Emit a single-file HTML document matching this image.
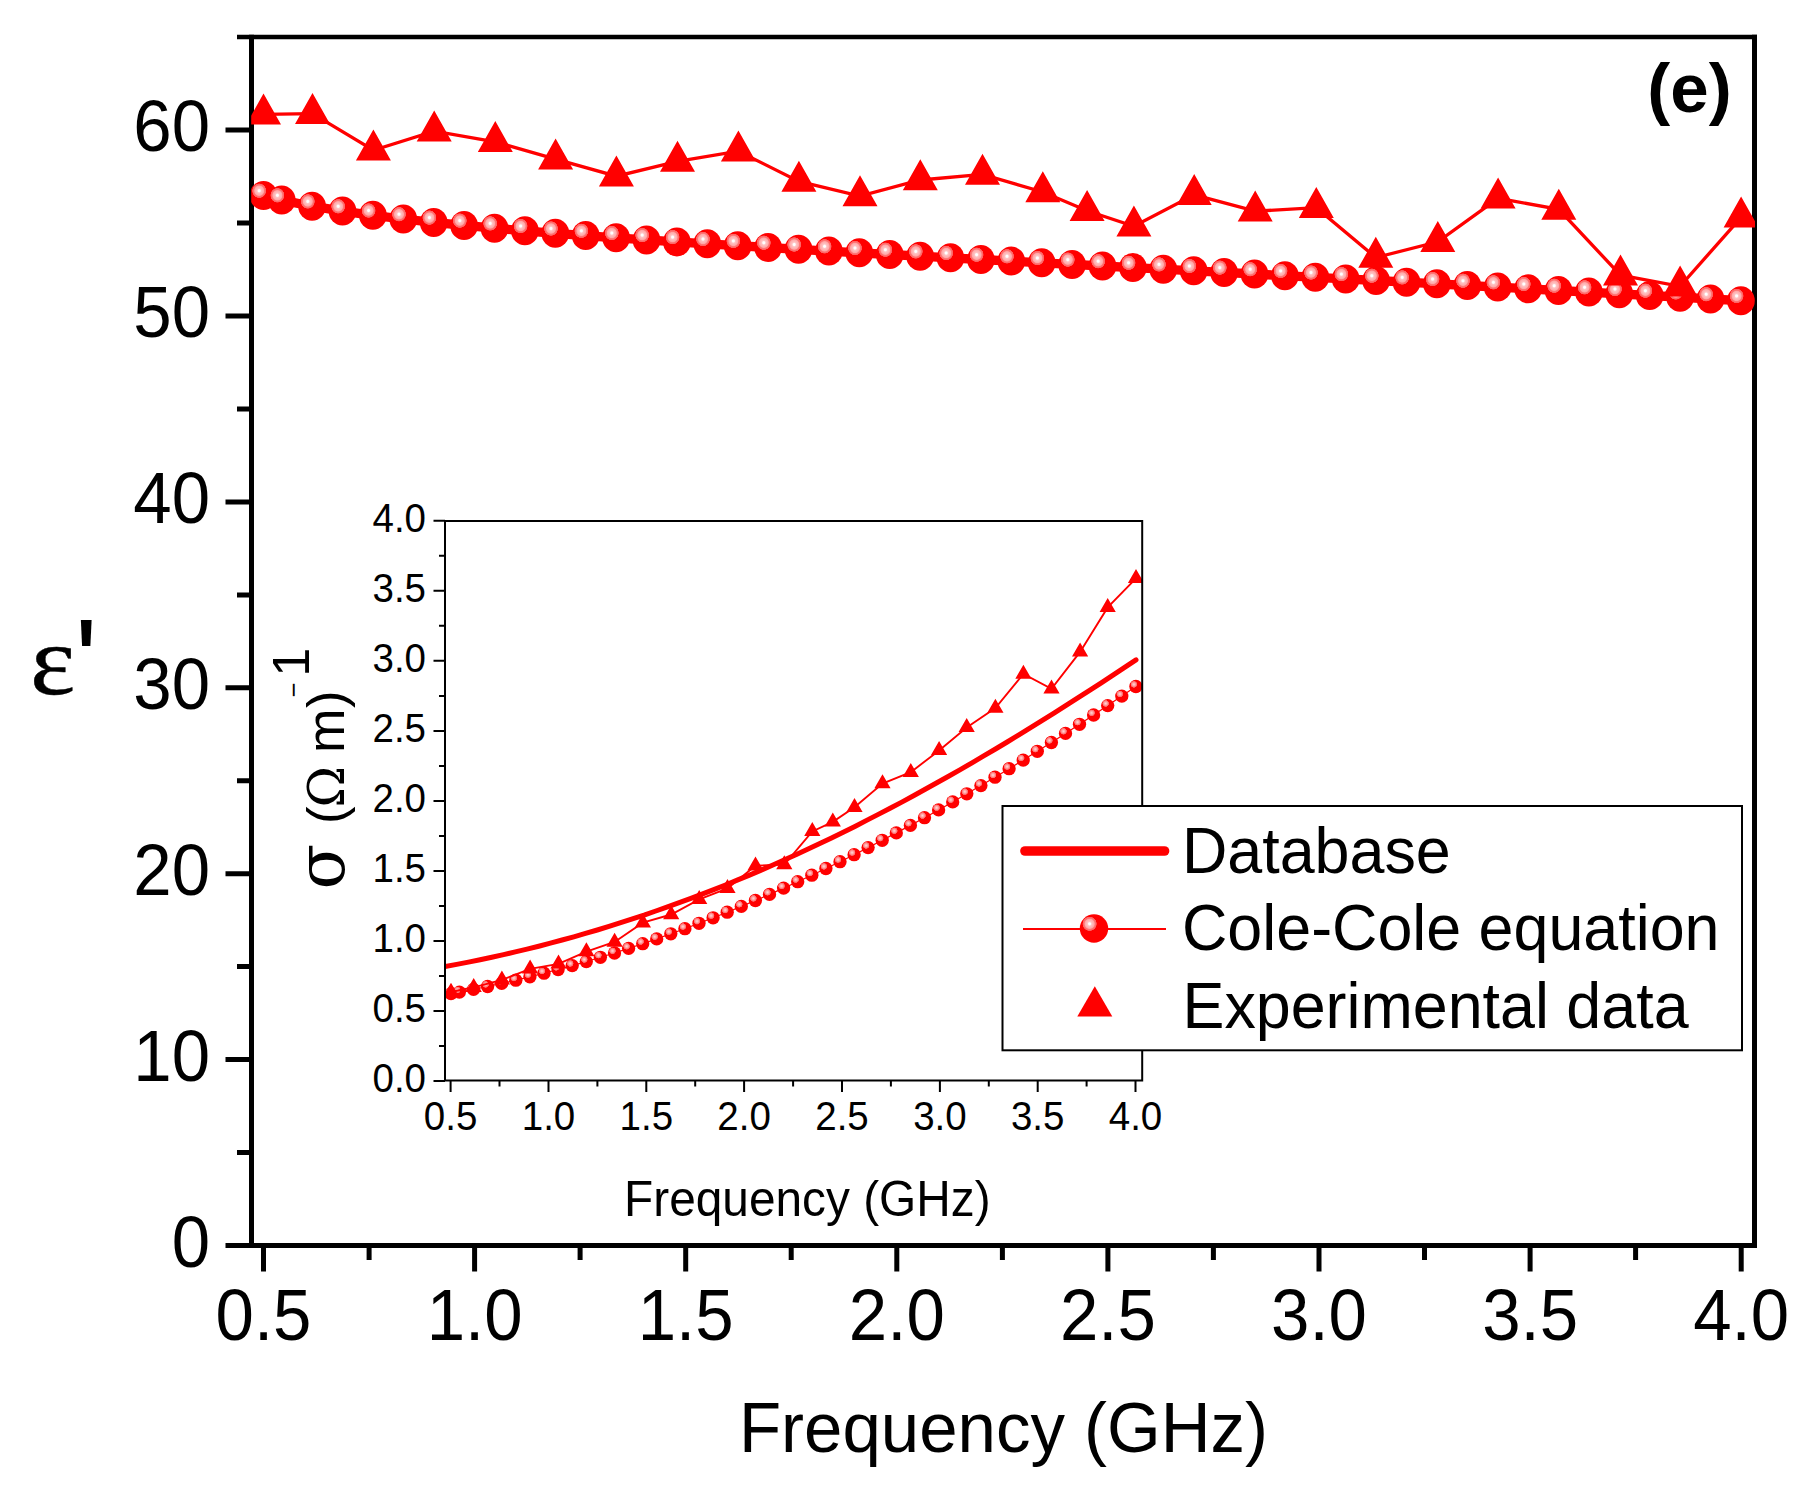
<!DOCTYPE html>
<html lang="en"><head><meta charset="utf-8"><title>Permittivity vs frequency (e)</title>
<style>html,body{margin:0;padding:0;background:#fff}svg{display:block}</style>
</head><body>
<svg width="1819" height="1494" viewBox="0 0 1819 1494" font-family="'Liberation Sans', sans-serif" fill="#000">
<defs>
<radialGradient id="sph" cx="0.345" cy="0.335" r="0.255" fx="0.345" fy="0.335"><stop offset="0" stop-color="#fff"/><stop offset="0.14" stop-color="#fff"/><stop offset="0.3" stop-color="#ffc4c4"/><stop offset="0.64" stop-color="#ffa8a8"/><stop offset="0.74" stop-color="#ff7878"/><stop offset="0.94" stop-color="#ff6060"/><stop offset="1" stop-color="#ff0000"/></radialGradient>
<radialGradient id="sph2" cx="0.35" cy="0.34" r="0.26" fx="0.35" fy="0.34"><stop offset="0" stop-color="#ffd8d8"/><stop offset="0.5" stop-color="#ffa0a0"/><stop offset="0.9" stop-color="#ff6060"/><stop offset="1" stop-color="#ff0000"/></radialGradient>
<clipPath id="mclip"><rect x="251.2" y="37.0" width="1503.8" height="1208.5"/></clipPath>
<clipPath id="iclip"><rect x="445.0" y="521.0" width="697.2" height="559.5"/></clipPath>
</defs>
<rect width="1819" height="1494" fill="#fff"/>
<g stroke="#000" stroke-width="5.0" fill="none" stroke-linecap="butt">
<path d="M251.5,34.8V1248.0M1754.5,34.8V1248.0M251.5,1245.5H1754.5"/>
<path d="M237.0,37.0H1757.0" stroke-width="4.4"/>
<path d="M263.5,1245.5V1271.5M474.6,1245.5V1271.5M685.7,1245.5V1271.5M896.8,1245.5V1271.5M1107.9,1245.5V1271.5M1319.0,1245.5V1271.5M1530.1,1245.5V1271.5M1741.2,1245.5V1271.5M369.1,1245.5V1260.0M580.1,1245.5V1260.0M791.2,1245.5V1260.0M1002.4,1245.5V1260.0M1213.4,1245.5V1260.0M1424.5,1245.5V1260.0M1635.6,1245.5V1260.0M251.5,1245.5H225.5M251.5,1059.6H225.5M251.5,873.7H225.5M251.5,687.8H225.5M251.5,501.9H225.5M251.5,316.0H225.5M251.5,130.1H225.5M251.5,1152.5H237.0M251.5,966.6H237.0M251.5,780.8H237.0M251.5,594.9H237.0M251.5,409.0H237.0M251.5,223.0H237.0"/>
</g>
<g clip-path="url(#mclip)">
<polyline points="263.5,195.5 281.7,200.1 312.1,206.2 342.5,211.1 372.9,215.3 403.3,219.0 433.7,222.4 464.1,225.4 494.5,228.2 524.9,230.8 555.3,233.3 585.7,235.6 616.1,237.8 646.5,239.9 676.9,241.9 707.3,243.8 737.7,245.7 768.1,247.5 798.5,249.3 828.9,251.1 859.3,252.8 889.7,254.5 920.1,256.2 950.5,257.8 980.9,259.5 1011.3,261.1 1041.7,262.8 1072.1,264.4 1102.5,266.0 1132.9,267.6 1163.3,269.2 1193.7,270.8 1224.1,272.4 1254.5,274.0 1284.9,275.7 1315.3,277.3 1345.7,278.9 1376.1,280.5 1406.5,282.2 1436.9,283.8 1467.3,285.5 1497.7,287.1 1528.1,288.8 1558.5,290.5 1588.9,292.1 1619.3,293.8 1649.7,295.5 1680.1,297.2 1710.5,299.0 1740.9,300.7" fill="none" stroke="#ff0000" stroke-width="9.3" stroke-linejoin="round"/>
<ellipse cx="263.5" cy="195.5" rx="13.9" ry="14.5" fill="url(#sph)"/>
<ellipse cx="281.7" cy="200.1" rx="13.9" ry="14.5" fill="url(#sph)"/>
<ellipse cx="312.1" cy="206.2" rx="13.9" ry="14.5" fill="url(#sph)"/>
<ellipse cx="342.5" cy="211.1" rx="13.9" ry="14.5" fill="url(#sph)"/>
<ellipse cx="372.9" cy="215.3" rx="13.9" ry="14.5" fill="url(#sph)"/>
<ellipse cx="403.3" cy="219.0" rx="13.9" ry="14.5" fill="url(#sph)"/>
<ellipse cx="433.7" cy="222.4" rx="13.9" ry="14.5" fill="url(#sph)"/>
<ellipse cx="464.1" cy="225.4" rx="13.9" ry="14.5" fill="url(#sph)"/>
<ellipse cx="494.5" cy="228.2" rx="13.9" ry="14.5" fill="url(#sph)"/>
<ellipse cx="524.9" cy="230.8" rx="13.9" ry="14.5" fill="url(#sph)"/>
<ellipse cx="555.3" cy="233.3" rx="13.9" ry="14.5" fill="url(#sph)"/>
<ellipse cx="585.7" cy="235.6" rx="13.9" ry="14.5" fill="url(#sph)"/>
<ellipse cx="616.1" cy="237.8" rx="13.9" ry="14.5" fill="url(#sph)"/>
<ellipse cx="646.5" cy="239.9" rx="13.9" ry="14.5" fill="url(#sph)"/>
<ellipse cx="676.9" cy="241.9" rx="13.9" ry="14.5" fill="url(#sph)"/>
<ellipse cx="707.3" cy="243.8" rx="13.9" ry="14.5" fill="url(#sph)"/>
<ellipse cx="737.7" cy="245.7" rx="13.9" ry="14.5" fill="url(#sph)"/>
<ellipse cx="768.1" cy="247.5" rx="13.9" ry="14.5" fill="url(#sph)"/>
<ellipse cx="798.5" cy="249.3" rx="13.9" ry="14.5" fill="url(#sph)"/>
<ellipse cx="828.9" cy="251.1" rx="13.9" ry="14.5" fill="url(#sph)"/>
<ellipse cx="859.3" cy="252.8" rx="13.9" ry="14.5" fill="url(#sph)"/>
<ellipse cx="889.7" cy="254.5" rx="13.9" ry="14.5" fill="url(#sph)"/>
<ellipse cx="920.1" cy="256.2" rx="13.9" ry="14.5" fill="url(#sph)"/>
<ellipse cx="950.5" cy="257.8" rx="13.9" ry="14.5" fill="url(#sph)"/>
<ellipse cx="980.9" cy="259.5" rx="13.9" ry="14.5" fill="url(#sph)"/>
<ellipse cx="1011.3" cy="261.1" rx="13.9" ry="14.5" fill="url(#sph)"/>
<ellipse cx="1041.7" cy="262.8" rx="13.9" ry="14.5" fill="url(#sph)"/>
<ellipse cx="1072.1" cy="264.4" rx="13.9" ry="14.5" fill="url(#sph)"/>
<ellipse cx="1102.5" cy="266.0" rx="13.9" ry="14.5" fill="url(#sph)"/>
<ellipse cx="1132.9" cy="267.6" rx="13.9" ry="14.5" fill="url(#sph)"/>
<ellipse cx="1163.3" cy="269.2" rx="13.9" ry="14.5" fill="url(#sph)"/>
<ellipse cx="1193.7" cy="270.8" rx="13.9" ry="14.5" fill="url(#sph)"/>
<ellipse cx="1224.1" cy="272.4" rx="13.9" ry="14.5" fill="url(#sph)"/>
<ellipse cx="1254.5" cy="274.0" rx="13.9" ry="14.5" fill="url(#sph)"/>
<ellipse cx="1284.9" cy="275.7" rx="13.9" ry="14.5" fill="url(#sph)"/>
<ellipse cx="1315.3" cy="277.3" rx="13.9" ry="14.5" fill="url(#sph)"/>
<ellipse cx="1345.7" cy="278.9" rx="13.9" ry="14.5" fill="url(#sph)"/>
<ellipse cx="1376.1" cy="280.5" rx="13.9" ry="14.5" fill="url(#sph)"/>
<ellipse cx="1406.5" cy="282.2" rx="13.9" ry="14.5" fill="url(#sph)"/>
<ellipse cx="1436.9" cy="283.8" rx="13.9" ry="14.5" fill="url(#sph)"/>
<ellipse cx="1467.3" cy="285.5" rx="13.9" ry="14.5" fill="url(#sph)"/>
<ellipse cx="1497.7" cy="287.1" rx="13.9" ry="14.5" fill="url(#sph)"/>
<ellipse cx="1528.1" cy="288.8" rx="13.9" ry="14.5" fill="url(#sph)"/>
<ellipse cx="1558.5" cy="290.5" rx="13.9" ry="14.5" fill="url(#sph)"/>
<ellipse cx="1588.9" cy="292.1" rx="13.9" ry="14.5" fill="url(#sph)"/>
<ellipse cx="1619.3" cy="293.8" rx="13.9" ry="14.5" fill="url(#sph)"/>
<ellipse cx="1649.7" cy="295.5" rx="13.9" ry="14.5" fill="url(#sph)"/>
<ellipse cx="1680.1" cy="297.2" rx="13.9" ry="14.5" fill="url(#sph)"/>
<ellipse cx="1710.5" cy="299.0" rx="13.9" ry="14.5" fill="url(#sph)"/>
<ellipse cx="1740.9" cy="300.7" rx="13.9" ry="14.5" fill="url(#sph)"/>
<polyline points="263.5,114.3 312.5,113.7 373.4,150.2 434.2,131.1 495.3,141.8 555.6,159.1 616.4,176.2 677.5,161.4 738.4,151.2 798.9,181.4 860.0,196.0 920.3,180.0 982.5,174.4 1042.8,192.0 1087.1,210.8 1133.9,226.2 1194.2,194.8 1255.2,211.2 1316.3,207.7 1375.8,257.5 1437.8,241.8 1498.1,198.3 1558.8,209.4 1620.5,275.2 1680.1,286.3 1741.1,217.3" fill="none" stroke="#ff0000" stroke-width="3.3"/>
<path fill="#ff0000" d="M263.5,93.6L281.0,124.6L246.0,124.6ZM312.5,93.0L330.0,124.0L295.0,124.0ZM373.4,129.5L390.9,160.5L355.9,160.5ZM434.2,110.4L451.7,141.4L416.7,141.4ZM495.3,121.1L512.8,152.1L477.8,152.1ZM555.6,138.4L573.1,169.4L538.1,169.4ZM616.4,155.5L633.9,186.5L598.9,186.5ZM677.5,140.7L695.0,171.7L660.0,171.7ZM738.4,130.5L755.9,161.5L720.9,161.5ZM798.9,160.7L816.4,191.7L781.4,191.7ZM860.0,175.3L877.5,206.3L842.5,206.3ZM920.3,159.3L937.8,190.3L902.8,190.3ZM982.5,153.7L1000.0,184.7L965.0,184.7ZM1042.8,171.3L1060.3,202.3L1025.3,202.3ZM1087.1,190.1L1104.6,221.1L1069.6,221.1ZM1133.9,205.5L1151.4,236.5L1116.4,236.5ZM1194.2,174.1L1211.7,205.1L1176.7,205.1ZM1255.2,190.5L1272.7,221.5L1237.7,221.5ZM1316.3,187.0L1333.8,218.0L1298.8,218.0ZM1375.8,236.8L1393.3,267.8L1358.3,267.8ZM1437.8,221.1L1455.3,252.1L1420.3,252.1ZM1498.1,177.6L1515.6,208.6L1480.6,208.6ZM1558.8,188.7L1576.3,219.7L1541.3,219.7ZM1620.5,254.5L1638.0,285.5L1603.0,285.5ZM1680.1,265.6L1697.6,296.6L1662.6,296.6ZM1741.1,196.6L1758.6,227.6L1723.6,227.6Z"/>
</g>
<text transform="translate(263.5,1340.0) scale(1,1.035)" font-size="69" text-anchor="middle">0.5</text>
<text transform="translate(474.6,1340.0) scale(1,1.035)" font-size="69" text-anchor="middle">1.0</text>
<text transform="translate(685.7,1340.0) scale(1,1.035)" font-size="69" text-anchor="middle">1.5</text>
<text transform="translate(896.8,1340.0) scale(1,1.035)" font-size="69" text-anchor="middle">2.0</text>
<text transform="translate(1107.9,1340.0) scale(1,1.035)" font-size="69" text-anchor="middle">2.5</text>
<text transform="translate(1319.0,1340.0) scale(1,1.035)" font-size="69" text-anchor="middle">3.0</text>
<text transform="translate(1530.1,1340.0) scale(1,1.035)" font-size="69" text-anchor="middle">3.5</text>
<text transform="translate(1741.2,1340.0) scale(1,1.035)" font-size="69" text-anchor="middle">4.0</text>
<text transform="translate(210.0,1266.5) scale(1,1.035)" font-size="69" text-anchor="end">0</text>
<text transform="translate(210.0,1080.6) scale(1,1.035)" font-size="69" text-anchor="end">10</text>
<text transform="translate(210.0,894.7) scale(1,1.035)" font-size="69" text-anchor="end">20</text>
<text transform="translate(210.0,708.8) scale(1,1.035)" font-size="69" text-anchor="end">30</text>
<text transform="translate(210.0,522.9) scale(1,1.035)" font-size="69" text-anchor="end">40</text>
<text transform="translate(210.0,337.0) scale(1,1.035)" font-size="69" text-anchor="end">50</text>
<text transform="translate(210.0,151.1) scale(1,1.035)" font-size="69" text-anchor="end">60</text>
<text transform="translate(1003.5,1451.5) scale(1,1.03)" font-size="69" text-anchor="middle">Frequency (GHz)</text>
<text transform="translate(29.9,693.7) scale(1.08,1)" font-size="100" stroke="#000" stroke-width="0.4" font-family="'Liberation Serif', 'DejaVu Serif', serif">ε</text>
<text x="74.7" y="702.5" font-size="120">'</text>
<text transform="translate(1689.5,112.0) scale(1,1.0)" font-size="69" text-anchor="middle" font-weight="bold">(e)</text>
<g clip-path="url(#iclip)">
<polyline points="445.0,966.6 456.7,964.4 468.4,962.1 480.1,959.7 491.8,957.2 503.6,954.6 515.3,951.9 527.0,949.1 538.7,946.2 550.4,943.2 562.1,940.0 573.8,936.8 585.5,933.4 597.3,930.0 609.0,926.4 620.7,922.7 632.4,918.9 644.1,915.1 655.8,911.0 667.5,906.9 679.2,902.7 690.9,898.4 702.7,893.9 714.4,889.4 726.1,884.7 737.8,879.9 749.5,875.1 761.2,870.1 772.9,865.0 784.6,859.8 796.4,854.5 808.1,849.0 819.8,843.5 831.5,837.9 843.2,832.2 854.9,826.4 866.6,820.4 878.3,814.4 890.1,808.3 901.8,802.1 913.5,795.8 925.2,789.3 936.9,782.8 948.6,776.3 960.3,769.6 972.0,762.8 983.7,755.9 995.5,749.0 1007.2,742.0 1018.9,734.9 1030.6,727.7 1042.3,720.4 1054.0,713.1 1065.7,705.7 1077.4,698.2 1089.2,690.7 1100.9,683.1 1112.6,675.4 1124.3,667.7 1136.0,659.9" fill="none" stroke="#ff0000" stroke-width="5.0" stroke-linecap="round"/>
<polyline points="451.0,993.6 459.4,992.1 473.5,989.4 487.6,986.5 501.7,983.4 515.8,980.2 529.9,976.8 544.0,973.2 558.1,969.5 572.2,965.6 586.3,961.6 600.4,957.3 614.5,953.0 628.6,948.4 642.7,943.7 656.7,938.9 670.8,933.8 684.9,928.7 699.0,923.3 713.1,917.8 727.2,912.2 741.3,906.4 755.4,900.5 769.5,894.4 783.6,888.1 797.7,881.7 811.8,875.2 825.9,868.5 840.0,861.7 854.1,854.7 868.1,847.6 882.2,840.3 896.3,832.9 910.4,825.4 924.5,817.7 938.6,809.9 952.7,801.9 966.8,793.8 980.9,785.6 995.0,777.2 1009.1,768.7 1023.2,760.1 1037.3,751.3 1051.4,742.5 1065.5,733.4 1079.5,724.3 1093.6,715.0 1107.7,705.6 1121.8,696.1 1135.9,686.5" fill="none" stroke="#ff0000" stroke-width="1.2"/>
<circle cx="451.0" cy="993.6" r="6.65" fill="url(#sph2)"/>
<circle cx="459.4" cy="992.1" r="6.65" fill="url(#sph2)"/>
<circle cx="473.5" cy="989.4" r="6.65" fill="url(#sph2)"/>
<circle cx="487.6" cy="986.5" r="6.65" fill="url(#sph2)"/>
<circle cx="501.7" cy="983.4" r="6.65" fill="url(#sph2)"/>
<circle cx="515.8" cy="980.2" r="6.65" fill="url(#sph2)"/>
<circle cx="529.9" cy="976.8" r="6.65" fill="url(#sph2)"/>
<circle cx="544.0" cy="973.2" r="6.65" fill="url(#sph2)"/>
<circle cx="558.1" cy="969.5" r="6.65" fill="url(#sph2)"/>
<circle cx="572.2" cy="965.6" r="6.65" fill="url(#sph2)"/>
<circle cx="586.3" cy="961.6" r="6.65" fill="url(#sph2)"/>
<circle cx="600.4" cy="957.3" r="6.65" fill="url(#sph2)"/>
<circle cx="614.5" cy="953.0" r="6.65" fill="url(#sph2)"/>
<circle cx="628.6" cy="948.4" r="6.65" fill="url(#sph2)"/>
<circle cx="642.7" cy="943.7" r="6.65" fill="url(#sph2)"/>
<circle cx="656.7" cy="938.9" r="6.65" fill="url(#sph2)"/>
<circle cx="670.8" cy="933.8" r="6.65" fill="url(#sph2)"/>
<circle cx="684.9" cy="928.7" r="6.65" fill="url(#sph2)"/>
<circle cx="699.0" cy="923.3" r="6.65" fill="url(#sph2)"/>
<circle cx="713.1" cy="917.8" r="6.65" fill="url(#sph2)"/>
<circle cx="727.2" cy="912.2" r="6.65" fill="url(#sph2)"/>
<circle cx="741.3" cy="906.4" r="6.65" fill="url(#sph2)"/>
<circle cx="755.4" cy="900.5" r="6.65" fill="url(#sph2)"/>
<circle cx="769.5" cy="894.4" r="6.65" fill="url(#sph2)"/>
<circle cx="783.6" cy="888.1" r="6.65" fill="url(#sph2)"/>
<circle cx="797.7" cy="881.7" r="6.65" fill="url(#sph2)"/>
<circle cx="811.8" cy="875.2" r="6.65" fill="url(#sph2)"/>
<circle cx="825.9" cy="868.5" r="6.65" fill="url(#sph2)"/>
<circle cx="840.0" cy="861.7" r="6.65" fill="url(#sph2)"/>
<circle cx="854.1" cy="854.7" r="6.65" fill="url(#sph2)"/>
<circle cx="868.1" cy="847.6" r="6.65" fill="url(#sph2)"/>
<circle cx="882.2" cy="840.3" r="6.65" fill="url(#sph2)"/>
<circle cx="896.3" cy="832.9" r="6.65" fill="url(#sph2)"/>
<circle cx="910.4" cy="825.4" r="6.65" fill="url(#sph2)"/>
<circle cx="924.5" cy="817.7" r="6.65" fill="url(#sph2)"/>
<circle cx="938.6" cy="809.9" r="6.65" fill="url(#sph2)"/>
<circle cx="952.7" cy="801.9" r="6.65" fill="url(#sph2)"/>
<circle cx="966.8" cy="793.8" r="6.65" fill="url(#sph2)"/>
<circle cx="980.9" cy="785.6" r="6.65" fill="url(#sph2)"/>
<circle cx="995.0" cy="777.2" r="6.65" fill="url(#sph2)"/>
<circle cx="1009.1" cy="768.7" r="6.65" fill="url(#sph2)"/>
<circle cx="1023.2" cy="760.1" r="6.65" fill="url(#sph2)"/>
<circle cx="1037.3" cy="751.3" r="6.65" fill="url(#sph2)"/>
<circle cx="1051.4" cy="742.5" r="6.65" fill="url(#sph2)"/>
<circle cx="1065.5" cy="733.4" r="6.65" fill="url(#sph2)"/>
<circle cx="1079.5" cy="724.3" r="6.65" fill="url(#sph2)"/>
<circle cx="1093.6" cy="715.0" r="6.65" fill="url(#sph2)"/>
<circle cx="1107.7" cy="705.6" r="6.65" fill="url(#sph2)"/>
<circle cx="1121.8" cy="696.1" r="6.65" fill="url(#sph2)"/>
<circle cx="1135.9" cy="686.5" r="6.65" fill="url(#sph2)"/>
<polyline points="451.0,992.0 473.7,987.3 501.9,979.9 530.1,968.9 558.5,963.9 586.4,951.6 614.6,942.0 642.9,922.7 671.2,914.5 699.2,899.4 727.5,888.4 755.5,865.8 784.3,864.5 812.3,831.4 832.8,821.8 854.5,807.2 882.5,783.5 910.8,772.2 939.1,750.4 966.7,727.4 995.4,708.1 1023.4,674.0 1051.5,688.9 1080.1,651.9 1107.7,607.4 1136.0,578.3" fill="none" stroke="#ff0000" stroke-width="1.9"/>
<path fill="#ff0000" d="M451.0,982.7L459.1,996.7L442.9,996.7ZM473.7,978.0L481.8,992.0L465.6,992.0ZM501.9,970.6L510.0,984.6L493.8,984.6ZM530.1,959.6L538.2,973.6L522.0,973.6ZM558.5,954.6L566.6,968.6L550.4,968.6ZM586.4,942.3L594.5,956.3L578.3,956.3ZM614.6,932.7L622.7,946.7L606.5,946.7ZM642.9,913.4L651.0,927.4L634.8,927.4ZM671.2,905.2L679.3,919.2L663.1,919.2ZM699.2,890.1L707.3,904.1L691.1,904.1ZM727.5,879.1L735.6,893.1L719.4,893.1ZM755.5,856.5L763.6,870.5L747.4,870.5ZM784.3,855.2L792.4,869.2L776.2,869.2ZM812.3,822.1L820.4,836.1L804.2,836.1ZM832.8,812.5L840.9,826.5L824.7,826.5ZM854.5,797.9L862.6,811.9L846.4,811.9ZM882.5,774.2L890.6,788.2L874.4,788.2ZM910.8,762.9L918.9,776.9L902.7,776.9ZM939.1,741.1L947.2,755.1L931.0,755.1ZM966.7,718.1L974.8,732.1L958.6,732.1ZM995.4,698.8L1003.5,712.8L987.3,712.8ZM1023.4,664.7L1031.5,678.7L1015.3,678.7ZM1051.5,679.6L1059.6,693.6L1043.4,693.6ZM1080.1,642.6L1088.2,656.6L1072.0,656.6ZM1107.7,598.1L1115.8,612.1L1099.6,612.1ZM1136.0,569.0L1144.1,583.0L1127.9,583.0Z"/>
</g>
<g stroke="#000" stroke-width="2" fill="none">
<rect x="445.0" y="521.0" width="697.2" height="559.5"/>
<path d="M450.6,1080.5V1092.0M548.5,1080.5V1092.0M646.3,1080.5V1092.0M744.1,1080.5V1092.0M842.0,1080.5V1092.0M939.9,1080.5V1092.0M1037.7,1080.5V1092.0M1135.5,1080.5V1092.0M499.5,1080.5V1086.5M597.4,1080.5V1086.5M695.2,1080.5V1086.5M793.1,1080.5V1086.5M890.9,1080.5V1086.5M988.8,1080.5V1086.5M1086.6,1080.5V1086.5M445.0,1081.0H433.5M445.0,1011.0H433.5M445.0,941.0H433.5M445.0,870.9H433.5M445.0,800.9H433.5M445.0,730.9H433.5M445.0,660.8H433.5M445.0,590.8H433.5M445.0,520.8H433.5M445.0,1046.0H439.0M445.0,976.0H439.0M445.0,905.9H439.0M445.0,835.9H439.0M445.0,765.9H439.0M445.0,695.9H439.0M445.0,625.8H439.0M445.0,555.8H439.0"/>
</g>
<text transform="translate(450.6,1129.7) scale(1,1.04)" font-size="38.5" text-anchor="middle">0.5</text>
<text transform="translate(548.5,1129.7) scale(1,1.04)" font-size="38.5" text-anchor="middle">1.0</text>
<text transform="translate(646.3,1129.7) scale(1,1.04)" font-size="38.5" text-anchor="middle">1.5</text>
<text transform="translate(744.1,1129.7) scale(1,1.04)" font-size="38.5" text-anchor="middle">2.0</text>
<text transform="translate(842.0,1129.7) scale(1,1.04)" font-size="38.5" text-anchor="middle">2.5</text>
<text transform="translate(939.9,1129.7) scale(1,1.04)" font-size="38.5" text-anchor="middle">3.0</text>
<text transform="translate(1037.7,1129.7) scale(1,1.04)" font-size="38.5" text-anchor="middle">3.5</text>
<text transform="translate(1135.5,1129.7) scale(1,1.04)" font-size="38.5" text-anchor="middle">4.0</text>
<text transform="translate(426.0,1092.2) scale(1,1.04)" font-size="38.5" text-anchor="end">0.0</text>
<text transform="translate(426.0,1022.2) scale(1,1.04)" font-size="38.5" text-anchor="end">0.5</text>
<text transform="translate(426.0,952.2) scale(1,1.04)" font-size="38.5" text-anchor="end">1.0</text>
<text transform="translate(426.0,882.1) scale(1,1.04)" font-size="38.5" text-anchor="end">1.5</text>
<text transform="translate(426.0,812.1) scale(1,1.04)" font-size="38.5" text-anchor="end">2.0</text>
<text transform="translate(426.0,742.1) scale(1,1.04)" font-size="38.5" text-anchor="end">2.5</text>
<text transform="translate(426.0,672.0) scale(1,1.04)" font-size="38.5" text-anchor="end">3.0</text>
<text transform="translate(426.0,602.0) scale(1,1.04)" font-size="38.5" text-anchor="end">3.5</text>
<text transform="translate(426.0,532.0) scale(1,1.04)" font-size="38.5" text-anchor="end">4.0</text>
<text transform="translate(807.3,1216.0) scale(1,1.03)" font-size="47.8" text-anchor="middle">Frequency (GHz)</text>
<text transform="translate(344.3,0) rotate(-90)" font-size="52.5"><tspan x="-889.4" font-size="66.8" font-family="'DejaVu Serif', 'Liberation Serif', serif">σ</tspan><tspan x="-840" > </tspan><tspan x="-824.1">(</tspan><tspan x="-807.4" font-size="50" font-family="'DejaVu Serif', 'Liberation Serif', serif">Ω</tspan><tspan x="-765" > </tspan><tspan x="-753.1" font-size="53.3">m</tspan><tspan x="-708.1">)</tspan><tspan x="-697.3" dy="-42.8" font-size="25.5">−</tspan><tspan x="-676.7" dy="7.8" font-size="52.3">1</tspan></text>
<rect x="1002.5" y="806" width="739.5" height="244.3" fill="#fff" stroke="#000" stroke-width="2"/>
<line x1="1025" y1="851" x2="1164.5" y2="851" stroke="#ff0000" stroke-width="9.7" stroke-linecap="round"/>
<line x1="1023" y1="929" x2="1166" y2="929" stroke="#ff0000" stroke-width="2"/>
<circle cx="1094" cy="928.5" r="14.2" fill="url(#sph)"/>
<path fill="#ff0000" d="M1094.8,986.3L1112.3,1016.6L1077.3,1016.6Z"/>
<text transform="translate(1182.0,872.5) scale(1,1.03)" font-size="62.8" text-anchor="start">Database</text>
<text transform="translate(1182.0,950.0) scale(1,1.03)" font-size="62.8" text-anchor="start">Cole-Cole equation</text>
<text transform="translate(1182.5,1027.5) scale(1,1.03)" font-size="62.8" text-anchor="start">Experimental data</text>
</svg>
</body></html>
